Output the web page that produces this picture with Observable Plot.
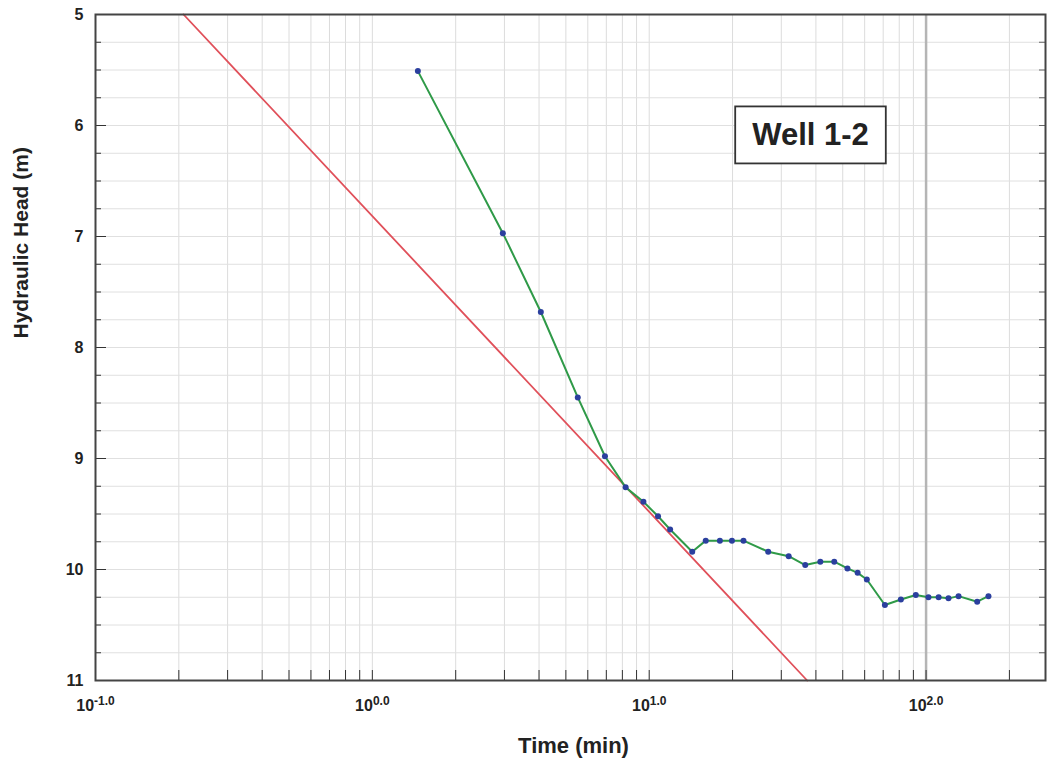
<!DOCTYPE html>
<html>
<head>
<meta charset="utf-8">
<script src="https://cdn.jsdelivr.net/npm/d3@7"></script>
<script src="https://cdn.jsdelivr.net/npm/@observablehq/plot@0.6"></script>
<style>
  html, body { margin: 0; padding: 0; background: #fff; }
  #chart svg { display: block; }
</style>
</head>
<body>
<div id="chart"></div>
<script>
// ---- data ----
const timeMin = [1.46, 2.96, 4.06, 5.52, 6.92, 8.22, 9.53, 10.76, 11.9, 14.3, 16.0, 18.0, 19.9, 21.9, 26.9, 31.9, 36.6, 41.5, 46.6, 52.0, 56.6, 61.1, 71.0, 81.1, 91.8, 102, 111, 120.5, 131, 153, 168];
const headM   = [5.51, 6.97, 7.68, 8.45, 8.98, 9.26, 9.39, 9.52, 9.64, 9.84, 9.74, 9.74, 9.74, 9.74, 9.84, 9.88, 9.96, 9.93, 9.93, 9.99, 10.03, 10.09, 10.32, 10.27, 10.23, 10.25, 10.25, 10.26, 10.24, 10.29, 10.24];
const fitTime = [0.208, 37.2];
const fitHead = [5, 11];
const xTickValues = [0.1, 1, 10, 100];
const xTickLabels = ["-1.0", "0.0", "1.0", "2.0"];
const yTickValues = [5, 6, 7, 8, 9, 10, 11];
const wellLabel = "Well 1-2";
const xLabel = "Time (min)";
const yLabel = "Hydraulic Head (m)";

const obs = timeMin.map((t, i) => ({t, h: headM[i]}));
const fit = fitTime.map((t, i) => ({t, h: fitHead[i]}));

// grid positions (derived)
const xMinor = [];
for (let e = -1; e <= 2; e++) for (let k = 1; k <= 9; k++) { const v = k * Math.pow(10, e); if (v <= 270) xMinor.push(v); }
const yMinor = d3.range(5, 11.001, 0.25);

const FONT = "Liberation Sans, Arial, Helvetica, sans-serif";

const chart = Plot.plot({
  width: 1056,
  height: 767,
  marginTop: 14,
  marginRight: 11,
  marginBottom: 87,
  marginLeft: 95,
  style: {fontFamily: FONT, background: "#fff"},
  x: {type: "log", domain: [0.1, 270]},
  y: {domain: [5, 11], reverse: true},
  marks: [
    Plot.gridX(xMinor, {stroke: "#dcdcdc", strokeOpacity: 1, strokeWidth: 1}),
    Plot.gridY(yMinor, {stroke: "#e0e0e0", strokeOpacity: 1, strokeWidth: 1}),
    Plot.ruleX([xTickValues[3]], {stroke: "#b5b5b5", strokeWidth: 2.5}),
    Plot.axisX({ticks: xMinor, tickSize: -10, tickFormat: () => "", stroke: "#333", label: null}),
    Plot.axisX({ticks: xTickValues, tickSize: 0, tickPadding: 19, tickFormat: (d) => xTickLabels[xTickValues.indexOf(d)], fontSize: 16, fontWeight: "bold", fill: "#222", label: null}),
    Plot.axisY({ticks: yMinor, tickSize: -6, tickFormat: () => "", stroke: "#333", label: null}),
    Plot.axisY({ticks: yTickValues, tickSize: -11, tickPadding: 23, tickFormat: d3.format("d"), fontSize: 16, fontWeight: "bold", fill: "#222", stroke: "#333", label: null}),
    Plot.axisY({anchor: "right", ticks: yMinor, tickSize: -7, tickFormat: () => "", stroke: "#666", label: null}),
    Plot.line(fit, {x: "t", y: "h", stroke: "#e0505a", strokeWidth: 1.8}),
    Plot.line(obs, {x: "t", y: "h", stroke: "#2f9a48", strokeWidth: 2}),
    Plot.dot(obs, {x: "t", y: "h", r: 3, fill: "#2b3f9e", stroke: "none"}),
    Plot.frame({stroke: "#444", strokeWidth: 2}),
    Plot.text([wellLabel], {frameAnchor: "top-right", dx: -235, dy: 121, text: d => d, fontSize: 31, fontWeight: "bold", fill: "#222", textAnchor: "middle", lineAnchor: "middle"}),
    Plot.text([xLabel], {frameAnchor: "bottom", dy: 72, text: d => d, fontSize: 22, fontWeight: "bold", fill: "#222", lineAnchor: "bottom", dx: 3}),
    Plot.text([yLabel], {frameAnchor: "left", dx: -74, dy: -9, rotate: -90, text: d => d, fontSize: 21, fontWeight: "bold", fill: "#222", lineAnchor: "middle"})
  ]
});

document.getElementById("chart").appendChild(chart);

const svg = d3.select(chart);

// superscript exponents on x tick labels: 10^e
svg.selectAll("text").each(function() {
  const el = d3.select(this);
  const s = el.text();
  if (xTickLabels.includes(s)) {
    el.text(null);
    el.attr("font-size", 16).attr("font-weight", "bold").style("font-size", "16px").style("font-weight", "bold");
    el.append("tspan").style("font-size", "16px").text("10");
    el.append("tspan").attr("dy", "-0.45em").style("font-size", "12px").text(s);
  }
});

// box around the well label
svg.selectAll("text").filter(function() { return this.textContent === wellLabel; }).each(function() {
  const bb = this.getBBox();
  const padX = 17, padY = 11;
  const ctm = this.getAttribute("transform");
  d3.select(this.parentNode).insert("rect", () => this)
    .attr("transform", ctm)
    .attr("x", bb.x - padX).attr("y", bb.y - padY)
    .attr("width", bb.width + 2 * padX).attr("height", bb.height + 2 * padY)
    .attr("fill", "#fff").attr("stroke", "#333").attr("stroke-width", 1.8);
});
</script>
</body>
</html>
